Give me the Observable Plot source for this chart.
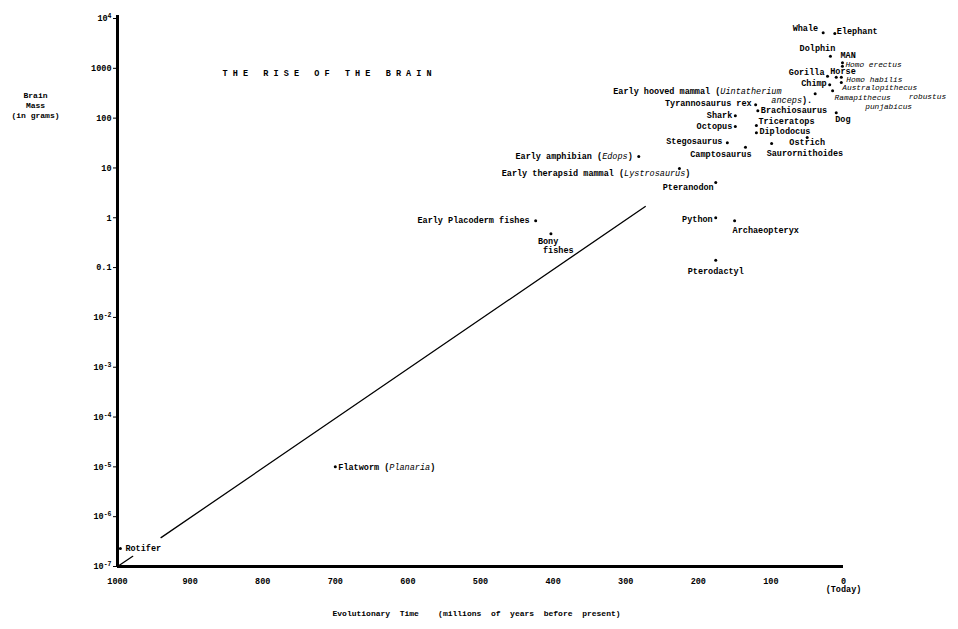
<!DOCTYPE html>
<html><head><meta charset="utf-8">
<script src="https://cdn.jsdelivr.net/npm/d3@7"></script>
<script src="https://cdn.jsdelivr.net/npm/@observablehq/plot@0.6"></script>
<style>body{margin:0;background:#fff} #chart svg{display:block}</style>
</head><body><div id="chart"></div>
<script>
const species = [
  "Rotifer", "Flatworm (Planaria)", "Early Placoderm fishes", "Bony\n\u00a0fishes",
  "Early amphibian (Edops)", "Early therapsid mammal (Lystrosaurus)", "Pteranodon", "Python",
  "Archaeopteryx", "Pterodactyl", "Stegosaurus", "Camptosaurus", "Saurornithoides", "Ostrich",
  "Diplodocus", "Triceratops", "Brachiosaurus", "Tyrannosaurus rex", "Shark", "Octopus",
  "Early hooved mammal (Uintatherium\u00a0\u00a0\u00a0\u00a0\u00a0\u00a0\nanceps).",
  "Whale", "Elephant", "Dolphin", "MAN", "Homo erectus", "Gorilla", "Horse", "Homo habilis",
  "Chimp", "Australopithecus\n\u00a0\u00a0\u00a0\u00a0\u00a0\u00a0\u00a0\u00a0\u00a0\u00a0\u00a0\u00a0\u00a0robustus",
  "Ramapithecus\n\u00a0\u00a0\u00a0\u00a0\u00a0\u00a0punjabicus", "Dog"
];
const timeMya = [
  996, 700, 424, 403,
  282, 226, 176, 176,
  150, 176, 160, 135, 99, 50,
  120, 120, 118, 121, 149, 149,
  39,
  28, 12, 18, 1.4, 1.5, 22, 10, 3,
  19, 3,
  15, 10
];
const brainGrams = [
  2.3e-7, 1e-5, 0.87, 0.48,
  17, 9.8, 5.1, 1.0,
  0.87, 0.14, 32, 26, 31, 41,
  51, 71, 141, 186, 112, 68,
  309,
  5200, 5000, 1740, 1300, 1100, 690, 660, 660,
  470, 520,
  355, 129
];
const xTicks = [1000, 900, 800, 700, 600, 500, 400, 300, 200, 100, 0];
const yTicks = [1e-7, 1e-6, 1e-5, 1e-4, 1e-3, 1e-2, 0.1, 1, 10, 100, 1000, 1e4];
const yTickLabels = ["10\u207b\u2077", "10\u207b\u2076", "10\u207b\u2075", "10\u207b\u2074", "10\u207b\u00b3", "10\u207b\u00b2", "0.1", "1", "10", "100", "1000", "10\u2074"];
const trendTime = [940, 273];
const trendMass = [3.8e-7, 1.68];
const pointerTime = [1000, 979];
const pointerMass = [1e-7, 1.6e-7];
const italicWords = ["Planaria", "Edops", "Lystrosaurus", "Uintatherium", "anceps", "Homo erectus", "Homo habilis", "Australopithecus", "robustus", "Ramapithecus", "punjabicus"];
const hominidWords = ["Homo erectus", "Homo habilis", "Australopithecus", "robustus", "Ramapithecus", "punjabicus"];
const titleText = "THE RISE OF THE BRAIN";
const yTitle = "Brain\nMass\n(in grams)";
const xTitle = "Evolutionary  Time    (millions  of  years  before  present)";

// label placement (layout only): [textAnchor, dx, dy, lineAnchor]
const placement = {
  "Rotifer": ["start", 5, 0],
  "Flatworm (Planaria)": ["start", 3, 0],
  "Early Placoderm fishes": ["end", -6, -1],
  "Bony\n\u00a0fishes": ["start", -13, 4, "top"],
  "Early amphibian (Edops)": ["end", -6, 0],
  "Early therapsid mammal (Lystrosaurus)": ["end", 11, 5],
  "Pteranodon": ["end", -2, 5],
  "Python": ["end", -3, 1],
  "Archaeopteryx": ["start", -2, 9],
  "Pterodactyl": ["middle", 0, 11],
  "Stegosaurus": ["end", -5, -2],
  "Camptosaurus": ["end", 6, 7],
  "Saurornithoides": ["start", -5, 10],
  "Ostrich": ["middle", 0, 5],
  "Diplodocus": ["start", 3, -1],
  "Triceratops": ["start", 2, -4],
  "Brachiosaurus": ["start", 3, 0],
  "Tyrannosaurus rex": ["end", -4, -1],
  "Shark": ["end", -3, 0],
  "Octopus": ["end", -3, 0],
  "Whale": ["end", -5, -4],
  "Elephant": ["start", 2, -2],
  "Dolphin": ["middle", -13, -8],
  "MAN": ["start", -2, -7],
  "Homo erectus": ["start", 3, -2],
  "Gorilla": ["end", -3, -4],
  "Horse": ["start", -6, -6],
  "Homo habilis": ["start", 5, 2],
  "Chimp": ["end", -3, -1],
  "Dog": ["start", -1, 7]
};
function place(name) {
  if (placement[name]) return placement[name];
  if (name.startsWith("Early hooved")) return ["end", -3, -6, "top"];
  if (name.startsWith("Australopithecus")) return ["start", 1, 1, "top"];
  if (name.startsWith("Ramapithecus")) return ["start", 2, 3, "top"];
  return ["start", 3, 0];
}

const FONT = "'Liberation Mono', 'DejaVu Sans Mono', monospace";
const idx = species.map((_, i) => i);
const trend = trendTime.map((t, i) => ({t, m: trendMass[i]}));
const pointer = pointerTime.map((t, i) => ({t, m: pointerMass[i]}));
const tickLabelMap = new Map(yTicks.map((v, i) => [v, yTickLabels[i]]));

const labelMarks = idx.map(i => {
  const [anchor, dx, dy, la] = place(species[i]);
  return Plot.text([i], {
    x: j => timeMya[j], y: j => brainGrams[j], text: j => species[j],
    textAnchor: anchor, dx, dy, lineAnchor: la || "middle",
    lineHeight: la ? 1.05 : 1, fontSize: 8.5, fill: "black", className: "lbl"
  });
});

const chart = Plot.plot({
  width: 958, height: 629,
  marginLeft: 117, marginRight: 115, marginTop: 18, marginBottom: 63,
  style: {fontFamily: FONT, fontSize: "8.5px", fontWeight: "bold", color: "black", background: "white"},
  x: {domain: [1000, 0], ticks: xTicks, tickFormat: d => d === 0 ? "0\n(Today)" : String(d), tickSize: 0, tickPadding: 11, label: null},
  y: {type: "log", domain: [1e-7, 1e4], ticks: yTicks, tickFormat: d => tickLabelMap.get(d) ?? "", tickSize: 4, tickPadding: 2, label: null},
  marks: [
    Plot.line(trend, {x: "t", y: "m", stroke: "black", strokeWidth: 1.3}),
    Plot.line(pointer, {x: "t", y: "m", stroke: "black", strokeWidth: 1.3}),
    Plot.ruleX([1000], {stroke: "black", strokeWidth: 3, insetTop: -3}),
    Plot.ruleY([1e-7], {stroke: "black", strokeWidth: 3}),
    Plot.dot(idx, {x: j => timeMya[j], y: j => brainGrams[j], r: 1.5, fill: "black", stroke: null}),
    ...labelMarks,
    Plot.text([titleText], {frameAnchor: "top-left", textAnchor: "start", lineAnchor: "middle", dx: 105, dy: 55, fontSize: 8.5, className: "ttl"}),
    Plot.text([yTitle], {frameAnchor: "top-left", textAnchor: "middle", lineAnchor: "top", dx: -82, dy: 72, fontSize: 8, lineHeight: 1.25}),
    Plot.text([xTitle], {frameAnchor: "bottom", textAnchor: "middle", lineAnchor: "middle", dx: -4, dy: 47, fontSize: 8, className: "xttl"})
  ]
});

const SVGNS = "http://www.w3.org/2000/svg";
// italics within labels
const re = new RegExp("(" + italicWords.join("|") + ")");
d3.select(chart).selectAll("g.lbl text").each(function () {
  const tspans = this.querySelectorAll("tspan");
  const nodes = tspans.length ? Array.from(tspans) : [this];
  for (const node of nodes) {
    const s = node.textContent;
    if (!re.test(s)) continue;
    node.textContent = "";
    for (const part of s.split(re)) {
      if (!part) continue;
      if (italicWords.includes(part)) {
        const t = document.createElementNS(SVGNS, "tspan");
        t.setAttribute("font-style", "italic");
        t.setAttribute("font-weight", "normal");
        if (hominidWords.includes(part)) t.setAttribute("font-size", "7.8px");
        t.textContent = part;
        node.appendChild(t);
      } else {
        node.appendChild(document.createTextNode(part));
      }
    }
  }
});
// larger superscript exponents on the y tick labels
const supMap = {"\u207b": "-", "\u2070": "0", "\u00b9": "1", "\u00b2": "2", "\u00b3": "3", "\u2074": "4", "\u2075": "5", "\u2076": "6", "\u2077": "7", "\u2078": "8", "\u2079": "9"};
d3.select(chart).selectAll("text").each(function () {
  if (this.querySelector("tspan")) return;
  const m = /^10([\u207b\u2070\u00b9\u00b2\u00b3\u2074-\u2079]+)$/.exec(this.textContent);
  if (!m) return;
  const exp = Array.from(m[1]).map(c => supMap[c]).join("");
  this.textContent = "10";
  const t = document.createElementNS(SVGNS, "tspan");
  t.setAttribute("font-size", "6.5px");
  t.setAttribute("dy", "-3");
  t.textContent = exp;
  this.appendChild(t);
});
d3.select(chart).selectAll("g.ttl text").attr("letter-spacing", "5.1px").style("white-space", "pre");
d3.select(chart).selectAll("g.xttl text").style("white-space", "pre");
document.getElementById("chart").appendChild(chart);
</script>
</body></html>
